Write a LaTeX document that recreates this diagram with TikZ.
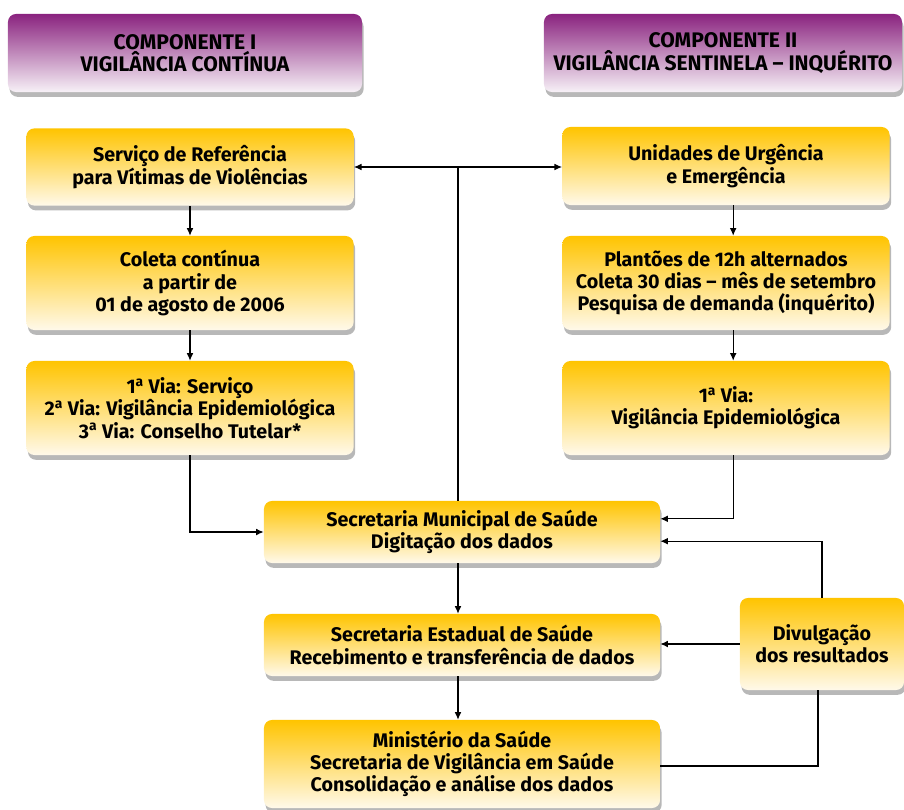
\documentclass[tikz,border=0pt]{standalone}
\usepackage{fontspec}
\setmainfont{Fira Sans}
\usetikzlibrary{arrows.meta,shadows}

\definecolor{ambar}{HTML}{FFC400}
\definecolor{creme}{HTML}{FFF9EA}
\definecolor{roxo}{HTML}{8A237F}
\definecolor{lilas}{HTML}{F7F1F7}
\newcommand{\ordA}{\textsuperscript{a}}

\begin{document}
\begin{tikzpicture}[x=0.025cm,y=-0.025cm,>={Latex[length=1.9mm,width=1.7mm]},
  caixa/.style={rounded corners=0.2cm,top color=ambar,bottom color=creme,align=center,
    font=\bfseries\fontsize{14}{15.8}\selectfont,inner sep=2pt,
    drop shadow={shadow xshift=0.4mm,shadow yshift=-1.2mm,fill=black,opacity=0.28}},
  titulo/.style={rounded corners=0.2cm,top color=roxo,bottom color=lilas,align=center,
    font=\bfseries\fontsize{15}{15.8}\selectfont,inner sep=2pt,minimum height=1.95cm,
    drop shadow={shadow xshift=0.4mm,shadow yshift=-1.2mm,fill=black,opacity=0.28}},
  seta/.style={line width=0.8pt,->},
  linha/.style={line width=0.8pt}]
\useasboundingbox (0,0) rectangle (904,810);

% cabecalhos
\node[titulo,minimum width=8.85cm] (comp1) at (185,53) {COMPONENTE I\\VIGILÂNCIA CONTÍNUA};
\node[titulo,minimum width=8.95cm] (comp2) at (723,53) {COMPONENTE II\\VIGILÂNCIA SENTINELA – INQUÉRITO};

% componente I
\node[caixa,minimum width=8.18cm,minimum height=1.93cm] (servico) at (190,167) {Serviço de Referência\\para Vítimas de Violências};
\node[caixa,minimum width=8.18cm,minimum height=2.35cm] (coleta) at (190,283) {Coleta contínua\\a partir de\\01 de agosto de 2006};
\node[caixa,minimum width=8.18cm,minimum height=2.35cm] (vias) at (190,408) {1\ordA{} Via: Serviço\\2\ordA{} Via: Vigilância Epidemiológica\\3\ordA{} Via: Conselho Tutelar*};

% componente II
\node[caixa,minimum width=8.18cm,minimum height=1.95cm] (urgencia) at (726,166) {Unidades de Urgência\\e Emergência};
\node[caixa,minimum width=8.18cm,minimum height=2.35cm] (plantoes) at (726,283) {Plantões de 12h alternados\\Coleta 30 dias – mês de setembro\\Pesquisa de demanda (inquérito)};
\node[caixa,minimum width=8.18cm,minimum height=2.35cm] (viave) at (726,408) {1\ordA{} Via:\\Vigilância Epidemiológica};

% fluxo central
\node[caixa,minimum width=9.9cm,minimum height=1.55cm] (sms) at (462,532) {Secretaria Municipal de Saúde\\Digitação dos dados};
\node[caixa,minimum width=9.9cm,minimum height=1.55cm] (ses) at (462,645) {Secretaria Estadual de Saúde\\Recebimento e transferência de dados};
\node[caixa,minimum width=9.9cm,minimum height=2.2cm] (ms) at (462,764) {Ministério da Saúde\\Secretaria de Vigilância em Saúde\\Consolidação e análise dos dados};
\node[caixa,minimum width=4.1cm,minimum height=2.3cm] (divulga) at (822,644) {Divulgação\\dos resultados};

\coordinate (eixo) at (458,167);

% conectores
\draw[seta] (servico) -- (coleta);
\draw[seta] (coleta) -- (vias);
\draw[seta] (vias.south) |- (sms.west);
\draw[seta] ([xshift=0.18cm]urgencia.south) -- ([xshift=0.18cm]plantoes.north);
\draw[seta] ([xshift=0.18cm]plantoes.south) -- ([xshift=0.18cm]viave.north);
\draw[seta] ([xshift=0.18cm]viave.south) |- ([yshift=0.33cm]sms.east);
\draw[seta] (divulga.north) |- ([yshift=-0.23cm]sms.east);
\draw[seta] (divulga.west) -- (divulga.west -| ses.east);
\draw[linha] ([xshift=-0.1cm]divulga.south) |- ([yshift=-0.05cm]ms.east);
\draw[linha] (eixo |- sms.north) -- (eixo);
\draw[seta] (eixo) -- (servico.east |- eixo);
\draw[seta] (eixo) -- (urgencia.west |- eixo);
\draw[seta] (eixo |- sms.south) -- (eixo |- ses.north);
\draw[seta] (eixo |- ses.south) -- (eixo |- ms.north);
\end{tikzpicture}
\end{document}
